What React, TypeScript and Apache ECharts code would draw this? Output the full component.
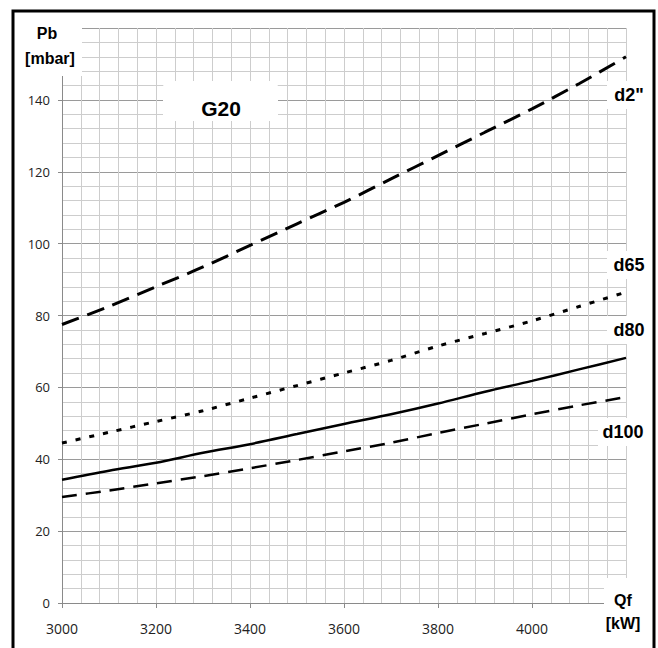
import React, { useEffect, useRef } from "react";
import * as echarts from "echarts";

const qf = [3000, 3100, 3200, 3300, 3400, 3500, 3600, 3700, 3800, 3900, 4000, 4100, 4200];
const d2 = [77.5, 82.5, 88, 93.5, 99.5, 105.5, 111.5, 118, 124.5, 131, 137.5, 144.5, 152];
const d65 = [44.5, 47.5, 50.5, 53.5, 57, 60.5, 64, 67.5, 71.5, 75, 78.5, 82.5, 86.5];
const d80 = [34.3, 36.8, 39, 41.8, 44.2, 47, 49.8, 52.5, 55.5, 58.8, 61.8, 65, 68.2];
const d100 = [29.5, 31.3, 33.3, 35.3, 37.5, 39.8, 42.2, 44.6, 47.3, 49.9, 52.5, 55, 57.3];
const seriesNames = ['d2"', "d65", "d80", "d100"];
const xTitle = ["Qf", "[kW]"];
const yTitle = ["Pb", "[mbar]"];
const gasLabel = "G20";

const pairs = (ys: number[]) => qf.map((x, i) => [x, ys[i]]);

export default function App() {
  const ref = useRef<HTMLDivElement>(null);
  useEffect(() => {
    document.body.style.margin = "0";
    const chart = echarts.init(ref.current!, undefined, { renderer: "svg" });
    const bold = (s: number) => `bold ${s}px "Liberation Sans", Arial, sans-serif`;
    const lineSeries = (name: string, data: number[], type: any, width: number, z = 3) => ({
      name,
      type: "line",
      data: pairs(data),
      showSymbol: false,
      smooth: 0.3,
      z,
      lineStyle: { color: "#000", width, type, cap: "butt" },
    });
    chart.setOption({
      animation: false,
      backgroundColor: "#fff",
      grid: { left: 62, right: 32, top: 28, bottom: 45 },
      xAxis: {
        type: "value", min: 3000, max: 4200, interval: 200, position: "bottom",
        axisLine: { show: true, lineStyle: { color: "#8a8a8a", width: 1 } },
        axisTick: { show: true, length: 5, lineStyle: { color: "#8a8a8a" } },
        axisLabel: {
          show: true, margin: 18, color: "#222", fontSize: 14,
          fontFamily: '"Open Sans", sans-serif', showMaxLabel: false,
          formatter: (v: number) => String(v),
        },
        splitLine: { show: true, lineStyle: { color: "#cdcdcd", width: 1 } },
        minorTick: { show: false, splitNumber: 5 },
        minorSplitLine: { show: true, lineStyle: { color: "#cdcdcd", width: 1 } },
      },
      yAxis: {
        type: "value", min: 0, max: 160, interval: 20, position: "left",
        axisLine: { show: true, lineStyle: { color: "#8a8a8a", width: 1 } },
        axisTick: { show: true, length: 4, lineStyle: { color: "#8a8a8a" } },
        axisLabel: {
          show: true, margin: 12, color: "#222", fontSize: 13,
          fontFamily: '"Open Sans", sans-serif', showMaxLabel: false,
          formatter: (v: number) => String(v),
        },
        splitLine: { show: true, lineStyle: { color: "#9a9a9a", width: 1 } },
        minorTick: { show: false, splitNumber: 5 },
        minorSplitLine: { show: true, lineStyle: { color: "#cdcdcd", width: 1 } },
      },
      series: [
        lineSeries(seriesNames[0], d2, [18, 9], 3),
        lineSeries(seriesNames[1], d65, [5, 9], 3),
        lineSeries(seriesNames[2], d80, "solid", 2.5),
        lineSeries(seriesNames[3], d100, [15, 9], 2.5),
      ],
      graphic: [
        { type: "rect", z: 10, shape: { x: 13, y: 12, width: 69, height: 64 }, style: { fill: "#fff" } },
        { type: "rect", z: 10, shape: { x: 163, y: 81, width: 115, height: 40, r: 6 }, style: { fill: "#fff" } },
        { type: "rect", z: 10, shape: { x: 607, y: 81, width: 45, height: 28 }, style: { fill: "#fff" } },
        { type: "rect", z: 10, shape: { x: 607, y: 251, width: 45, height: 28 }, style: { fill: "#fff" } },
        { type: "rect", z: 10, shape: { x: 607, y: 316, width: 45, height: 28 }, style: { fill: "#fff" } },
        { type: "rect", z: 10, shape: { x: 598, y: 418, width: 54, height: 28 }, style: { fill: "#fff" } },
        { type: "rect", z: 10, shape: { x: 604, y: 578, width: 48, height: 70 }, style: { fill: "#fff" } },
        { type: "text", z: 11, style: { text: yTitle[0], x: 47, y: 33, textAlign: "center", textVerticalAlign: "middle", font: bold(16), fill: "#000" } },
        { type: "text", z: 11, style: { text: yTitle[1], x: 50, y: 58, textAlign: "center", textVerticalAlign: "middle", font: bold(16), fill: "#000" } },
        { type: "text", z: 11, style: { text: gasLabel, x: 221, y: 108, textAlign: "center", textVerticalAlign: "middle", font: bold(21), fill: "#000" } },
        { type: "text", z: 11, style: { text: seriesNames[0], x: 629, y: 95, textAlign: "center", textVerticalAlign: "middle", font: bold(18), fill: "#000" } },
        { type: "text", z: 11, style: { text: seriesNames[1], x: 629, y: 265, textAlign: "center", textVerticalAlign: "middle", font: bold(18), fill: "#000" } },
        { type: "text", z: 11, style: { text: seriesNames[2], x: 629, y: 330, textAlign: "center", textVerticalAlign: "middle", font: bold(18), fill: "#000" } },
        { type: "text", z: 11, style: { text: seriesNames[3], x: 623, y: 432, textAlign: "center", textVerticalAlign: "middle", font: bold(18), fill: "#000" } },
        { type: "text", z: 11, style: { text: xTitle[0], x: 623, y: 600, textAlign: "center", textVerticalAlign: "middle", font: bold(16), fill: "#000" } },
        { type: "text", z: 11, style: { text: xTitle[1], x: 623, y: 623, textAlign: "center", textVerticalAlign: "middle", font: bold(16), fill: "#000" } },
        { type: "rect", z: 12, shape: { x: 13, y: 11, width: 641, height: 660 }, style: { fill: "none", stroke: "#000", lineWidth: 3 } },
      ],
    });
    return () => chart.dispose();
  }, []);
  return <div ref={ref} style={{ position: "absolute", left: 0, top: 0, width: 658, height: 648 }} />;
}
